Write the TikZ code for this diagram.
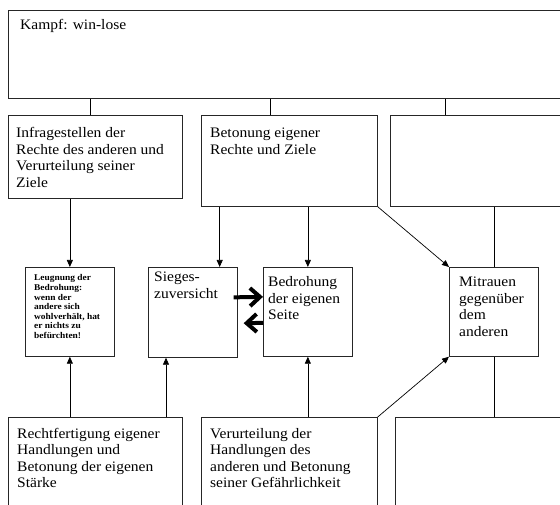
\documentclass[tikz,border=0pt]{standalone}
\usepackage{fontspec}
\setmainfont{Liberation Serif}[FakeStretch=1.07]
\usetikzlibrary{arrows.meta}

% text settings for the boxes
\newcommand\bigtxt{\fontsize{14.5}{16.5}\selectfont}
\newcommand\smalltxt{\fontsize{8.8}{9.6}\selectfont\bfseries}
\newcommand\lines[2]{\parbox[t]{#1}{\raggedright #2}}

\begin{document}
\begin{tikzpicture}[x=1pt,y=-1pt,
  frame/.style={draw=black!85, line width=0.7pt, anchor=north west, inner sep=0pt},
  txt/.style={anchor=base west, inner sep=0pt, font=\bigtxt},
  stxt/.style={anchor=base west, inner sep=0pt, font=\smalltxt},
  link/.style={draw=black, line width=0.7pt},
  arr/.style={link, -{Triangle[length=7pt,width=6pt]}},
  fat/.style={draw=black, line width=4pt, -{Straight Barb[length=10pt,width=18pt]}}
]
\useasboundingbox (0,0) rectangle (560,505);
\fill[white] (0,0) rectangle (560,505);
\clip (0,0) rectangle (560,505);

% top box
\node[frame, minimum width=560pt, minimum height=88pt] (top) at (8,10) {};
\node[txt] (ttop) at (20,30) {Kampf: win-lose};

% second row
\node[frame, minimum width=174pt, minimum height=83pt] (A) at (8,115) {};
\node[frame, minimum width=176pt, minimum height=91pt] (B) at (201,115) {};
\node[frame, minimum width=180pt, minimum height=91pt] (C) at (390,115) {};
\node[txt] (tA) at (16,138) {\lines{168pt}{Infragestellen der\\Rechte des anderen und\\Verurteilung seiner\\Ziele}};
\node[txt] (tB) at (210,138) {\lines{168pt}{Betonung eigener\\Rechte und Ziele}};

% third row
\node[frame, minimum width=89pt, minimum height=89pt] (LG) at (25,267) {};
\node[frame, minimum width=89pt, minimum height=90pt] (SG) at (148,267) {};
\node[frame, minimum width=89pt, minimum height=89pt] (BD) at (263,267) {};
\node[frame, minimum width=89pt, minimum height=89pt] (MI) at (449,267) {};
\node[stxt] (tLG) at (34,281) {\lines{80pt}{Leugnung der\\Bedrohung:\\wenn der\\andere sich\\wohlverhält, hat\\er nichts zu\\befürchten!}};
\node[txt] (tSG) at (154,282) {\lines{82pt}{Sieges-\\zuversicht}};
\node[txt] (tBD) at (268,287) {\lines{84pt}{Bedrohung\\der eigenen\\Seite}};
\node[txt] (tMI) at (459,287) {\lines{80pt}{Mitrauen\\gegenüber\\dem\\anderen}};

% bottom row
\node[frame, minimum width=174pt, minimum height=100pt] (D) at (8,417) {};
\node[frame, minimum width=176pt, minimum height=100pt] (E) at (201,417) {};
\node[frame, minimum width=180pt, minimum height=100pt] (F) at (395,417) {};
\node[txt] (tD) at (17,438) {\lines{168pt}{Rechtfertigung eigener\\Handlungen und\\Betonung der eigenen\\Stärke}};
\node[txt] (tE) at (210,438) {\lines{168pt}{Verurteilung der\\Handlungen des\\anderen und Betonung\\seiner Gefährlichkeit}};

% links from the top box
\draw[link] (top.south -| 90,0) -- (A.north -| 90,0);
\draw[link] (top.south -| 270,0) -- (B.north -| 270,0);
\draw[link] (top.south -| 445,0) -- (C.north -| 445,0);

% links down into the third row
\draw[arr] (A.south -| LG.north) -- (LG.north);
\draw[arr] ([xshift=-18pt]SG.north east |- B.south) -- ([xshift=-18pt]SG.north east);
\draw[arr] (B.south -| BD.north) -- (BD.north);
\draw[arr] (B.south east) -- (MI.north west);
\draw[link] (C.south -| MI.north) -- (MI.north);

% links up from the bottom row
\draw[arr] (D.north -| LG.south) -- (LG.south);
\draw[arr] ([xshift=18pt]SG.south west |- D.north) -- ([xshift=18pt]SG.south west);
\draw[arr] (E.north -| BD.south) -- (BD.south);
\draw[arr] (E.north east) -- (MI.south west);
\draw[link] (F.north -| MI.south) -- (MI.south);

% the two heavy arrows between the middle boxes
\draw[fat] ([yshift=15pt,xshift=-4pt]SG.east) -- ([yshift=15pt]BD.west);
\draw[fat, shorten >=6pt] ([yshift=-11pt]BD.west) -- ([yshift=-11pt]SG.east);
\end{tikzpicture}
\end{document}
